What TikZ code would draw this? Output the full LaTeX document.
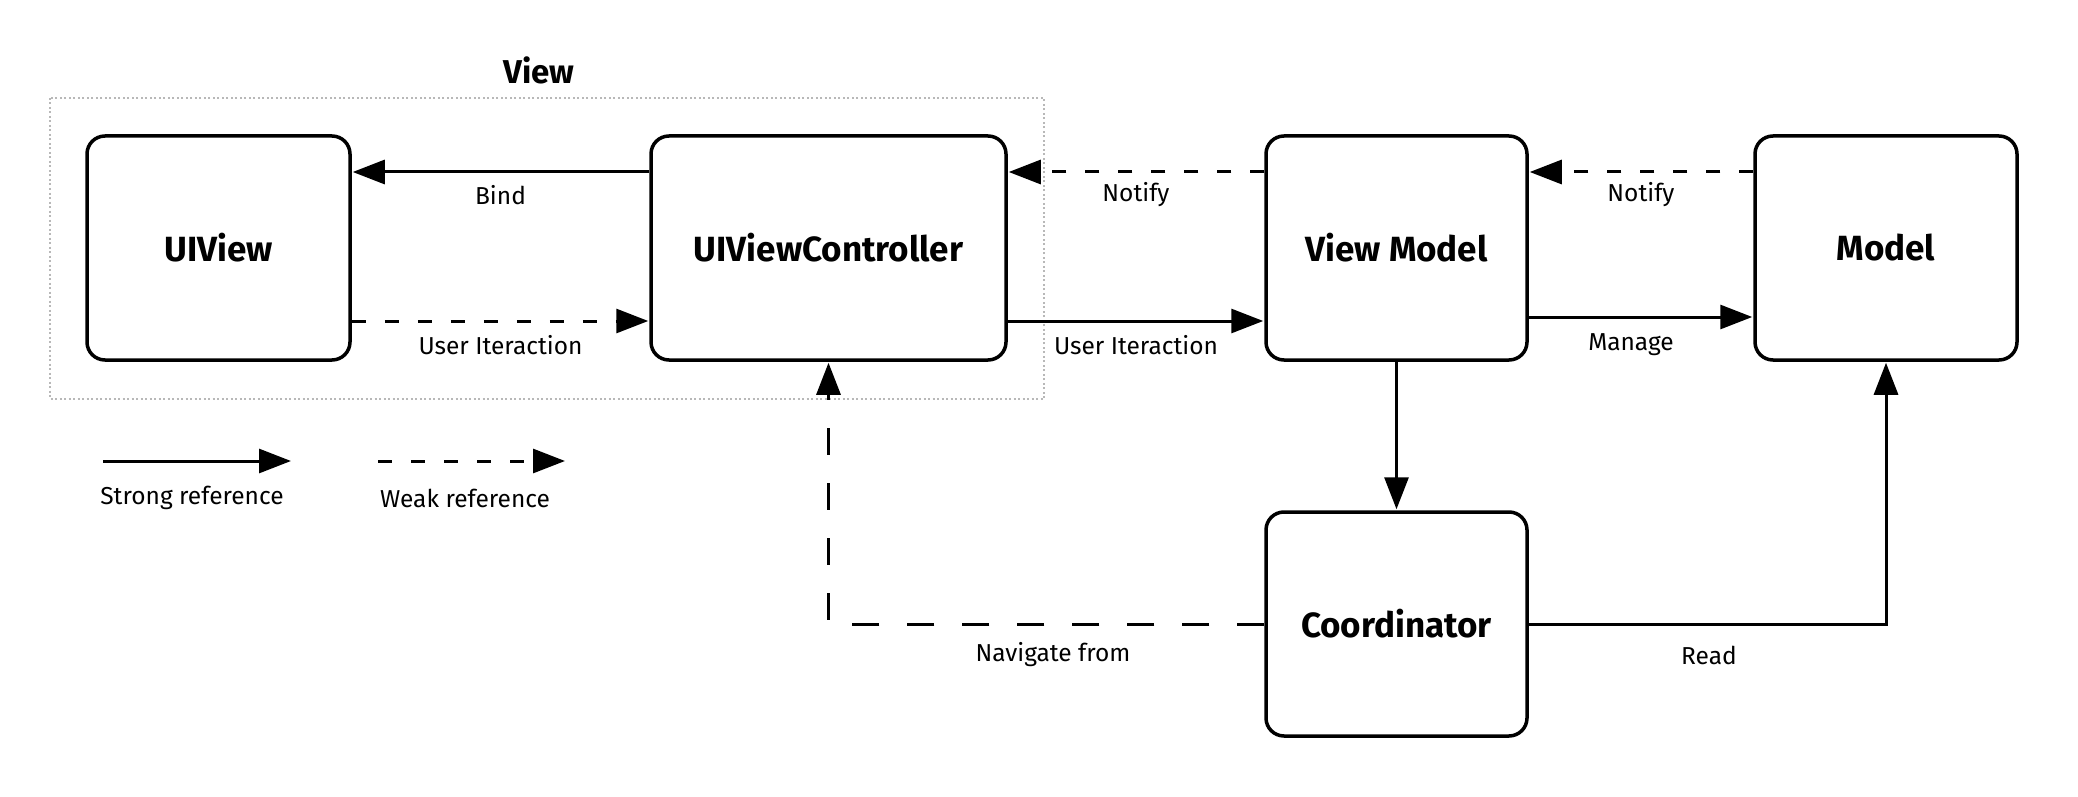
\documentclass[tikz,border=0pt]{standalone}
\usepackage{fontspec}
\setmainfont{Fira Sans}
\usetikzlibrary{arrows.meta}
\begin{document}
\begin{tikzpicture}[x=1pt,y=-1pt,
  box/.style={draw, line width=3.5pt, rounded corners=18pt, minimum height=224pt, inner sep=0pt,
    font=\fontsize{35}{40}\selectfont\bfseries},
  lbl/.style={font=\fontsize{24.5}{28}\selectfont, inner sep=0pt},
  conn/.style={line width=3pt, -{Triangle[length=32pt,width=24pt]}, shorten >=1pt},
  weak/.style={conn, dash pattern=on 14pt off 19pt},
  longdash/.style={conn, dash pattern=on 27pt off 28pt},
  group/.style={draw=black!28, line width=2pt, dash pattern=on 2pt off 2.5pt}
]
\useasboundingbox (0,0) rectangle (2078,797);

% group box
\draw[group] (50,98) rectangle (1044,399);
\node[font=\fontsize{33}{38}\selectfont\bfseries] (viewtitle) at (539,70) {View};

% nodes
\node[box, minimum width=263pt] (uiview) at (218.5,248) {UIView};
\node[box, minimum width=355pt] (vc) at (828.5,248) {UIViewController};
\node[box, minimum width=261pt] (vm) at (1396.5,248) {View Model};
\node[box, minimum width=262pt] (model) at (1886,248) {Model};
\node[box, minimum width=261pt] (coord) at (1396.5,624) {Coordinator};

\coordinate (ya) at (0,172);
\coordinate (yb) at (0,321);
\coordinate (yc) at (0,317);

% connectors
\draw[conn] (vc.west |- ya) -- (uiview.east |- ya);
\draw[weak] (uiview.east |- yb) -- (vc.west |- yb);
\draw[weak] (vm.west |- ya) -- (vc.east |- ya);
\draw[conn] (vc.east |- yb) -- (vm.west |- yb);
\draw[weak] (model.west |- ya) -- (vm.east |- ya);
\draw[conn] (vm.east |- yc) -- (model.west |- yc);
\draw[conn] (vm.south) -- (coord.north);
\draw[longdash] (coord.west) -| (vc.south);
\draw[conn] (coord.east) -| (model.south);

% labels
\node[lbl] (lbind) at (500.5,195) {Bind};
\node[lbl] (lui1) at (500.5,345) {User Iteraction};
\node[lbl] (ln1) at (1136,195) {Notify};
\node[lbl] (lui2) at (1136,345) {User Iteraction};
\node[lbl] (ln2) at (1641,195) {Notify};
\node[lbl] (lman) at (1631,345) {Manage};
\node[lbl] (lnav) at (1053,655) {Navigate from};
\node[lbl] (lread) at (1709,655) {Read};

% legend
\coordinate (s1) at (103,461);
\coordinate (s2) at (292,461);
\coordinate (w1) at (378,461);
\coordinate (w2) at (566,461);
\draw[conn] (s1) -- (s2);
\draw[weak] (w1) -- (w2);
\node[lbl] (lstrong) at (192,498) {Strong reference};
\node[lbl] (lweak) at (465,498) {Weak reference};
\end{tikzpicture}
\end{document}
